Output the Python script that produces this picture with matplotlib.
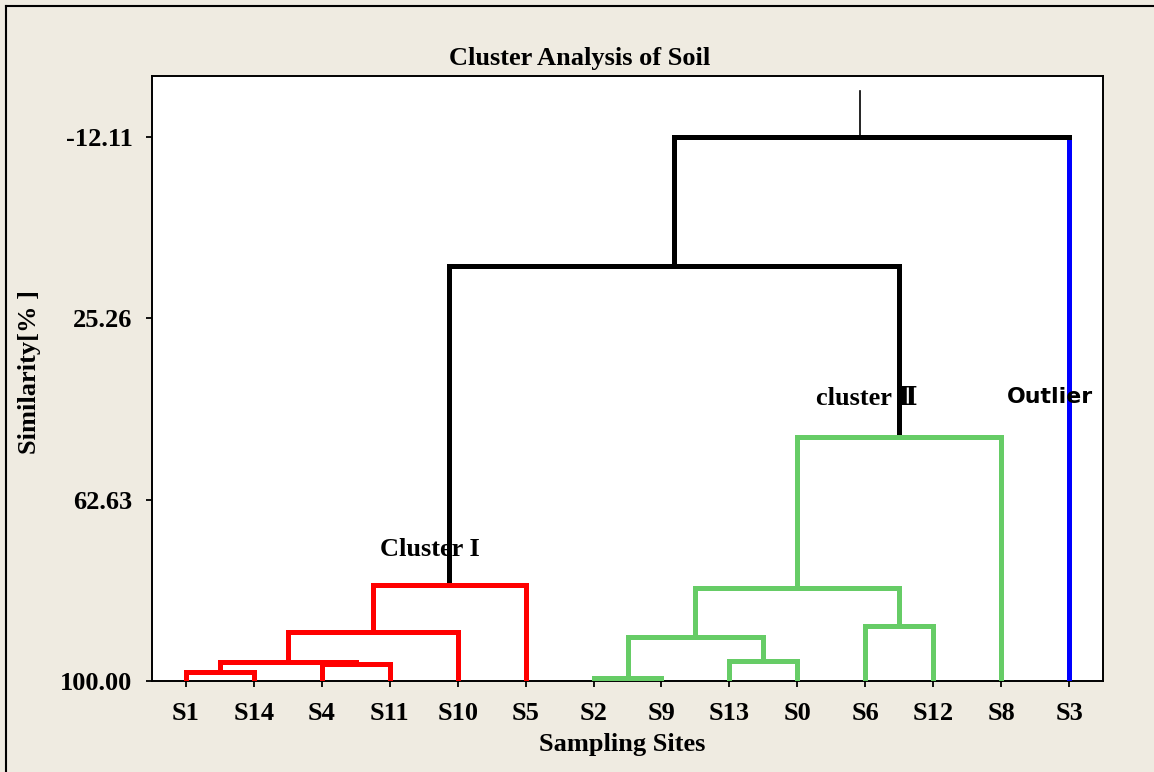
import matplotlib.pyplot as plt
from matplotlib.lines import Line2D

BG = "#efebe1"
RED = "#ff0000"
GREEN = "#66cc66"
BLUE = "#0000ff"

sites = ["S1", "S14", "S4", "S11", "S10", "S5", "S2", "S9", "S13", "S0", "S6", "S12", "S8", "S3"]
leaf_pos = list(range(1, len(sites) + 1))
yticks = [-12.11, 25.26, 62.63, 100.00]

# merges: (left x, right x, height, left child height, right child height, colour)
merges = [
    (1, 2, 98.14, 100.0, 100.0, RED),
    (3, 4, 96.50, 100.0, 100.0, RED),
    (1.5, 3.5, 96.08, 98.14, 96.50, RED),
    (2.5, 5, 89.90, 96.08, 100.0, RED),
    (3.75, 6, 80.21, 89.90, 100.0, RED),
    (7, 8, 99.38, 100.0, 100.0, GREEN),
    (9, 10, 95.87, 100.0, 100.0, GREEN),
    (7.5, 9.5, 90.93, 99.38, 95.87, GREEN),
    (11, 12, 88.66, 100.0, 100.0, GREEN),
    (8.5, 11.5, 80.83, 90.93, 88.66, GREEN),
    (10, 13, 49.71, 80.83, 100.0, GREEN),
    (4.875, 11.5, 14.47, 80.21, 49.71, "black"),
    (8.1875, 14, -12.11, 14.47, 100.0, "black"),
]
outlier_x = 14
root_stub = (10.93, -12.11, -21.6)

fig = plt.figure(figsize=(11.54, 7.72), dpi=100, facecolor=BG)
# frame only visible on top and left (picture is cropped)
fig.add_artist(Line2D([6 / 1154, 6 / 1154], [0, 1 - 6 / 772], transform=fig.transFigure,
                      color="black", lw=1.5))
fig.add_artist(Line2D([6 / 1154, 1], [1 - 6 / 772, 1 - 6 / 772], transform=fig.transFigure,
                      color="black", lw=1.5))

ax = fig.add_axes([152 / 1154, 1 - 681 / 772, 951 / 1154, 605 / 772])
ax.set_facecolor("white")

lw = 3.6
for xl, xr, h, hl, hr, c in merges:
    cr = BLUE if (c == "black" and xr == outlier_x) else c
    ax.plot([xl, xr], [h, h], color=c, lw=lw, solid_capstyle="projecting", zorder=3)
    ax.plot([xl, xl], [h, hl], color=c, lw=lw, solid_capstyle="projecting", zorder=2)
    ax.plot([xr, xr], [h, hr], color=cr, lw=lw, solid_capstyle="butt", zorder=2)

ax.plot([root_stub[0], root_stub[0]], [root_stub[1], root_stub[2]], color="black", lw=1.2)

ax.set_xlim(0.5, 14.5)
ax.set_ylim(100, -24.68)
ax.set_xticks(leaf_pos)
ax.set_xticklabels(sites)
ax.set_yticks(yticks)
ax.set_yticklabels([f"{v:.2f}" for v in yticks])
for lab in ax.get_xticklabels() + ax.get_yticklabels():
    lab.set_fontfamily("Liberation Serif")
    lab.set_fontweight("bold")
    lab.set_fontsize(19)
ax.tick_params(direction="out", length=4, width=1.3, color="black")
ax.tick_params(axis="x", pad=11)
ax.tick_params(axis="y", pad=10)
for s in ax.spines.values():
    s.set_linewidth(1.4)
    s.set_zorder(1)

serif = dict(family=["Liberation Serif", "DejaVu Serif"], weight="bold")
ax.text(4.59, 72.8, "Cluster I", fontsize=19, ha="center", va="center", **serif)
ax.text(11.03, 41.7, "cluster Ⅱ", fontsize=19, ha="center", va="center", **serif)
ax.text(13.72, 41.5, "Outlier", fontsize=15.8, ha="center", va="center",
        family="DejaVu Sans", weight="bold")

fig.text(580 / 1154, 1 - 58 / 772, "Cluster Analysis of Soil", fontsize=19,
         ha="center", va="center", **serif)
fig.text(622 / 1154, 1 - 745 / 772, "Sampling Sites", fontsize=19,
         ha="center", va="center", **serif)
fig.text(30 / 1154, 1 - 372 / 772, "Similarity[% ]", fontsize=19, rotation=90,
         ha="center", va="center", **serif)

fig.savefig("out.png", dpi=100, facecolor=BG)
